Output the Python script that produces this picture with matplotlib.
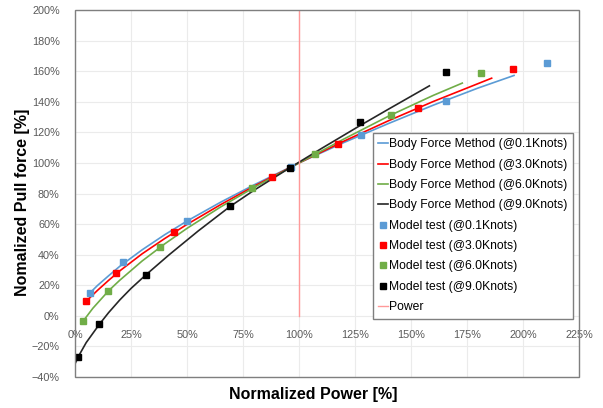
import matplotlib.pyplot as plt
from matplotlib.patches import Rectangle
from matplotlib.ticker import MultipleLocator, PercentFormatter

plt.rcParams['font.family'] = ['Liberation Sans', 'DejaVu Sans']

# body force method curves (normalized power %, normalized pull force %)
bfm_01_x = [6.7, 10, 15, 20, 30, 40, 50, 65, 80, 100, 120, 140, 160, 180, 196]
bfm_01_y = [15.0, 19.8, 26.2, 32.4, 43.2, 53.0, 62.0, 74.3, 85.7, 100, 113.3, 125.8, 137.8, 149.0, 157.2]
bfm_30_x = [4.9, 10, 15, 20, 30, 40, 50, 65, 80, 100, 120, 140, 160, 186]
bfm_30_y = [9.4, 16.6, 23.2, 29.4, 40.6, 50.5, 59.8, 72.7, 84.8, 100, 114.2, 127.6, 140.2, 155.4]
bfm_60_x = [3.7, 8, 15, 20, 30, 40, 50, 65, 80, 100, 120, 140, 160, 172.9]
bfm_60_y = [-3.3, 5.0, 16.4, 23.3, 35.9, 47.0, 57.2, 71.2, 84.0, 100, 115.6, 130.6, 144.2, 152.2]
bfm_90_x = [0.3, 1.5, 5, 10.9, 15, 20, 25, 31.5, 42, 55, 69.2, 80, 96, 110, 127, 140, 158.2]
bfm_90_y = [-30.5, -26.6, -17.5, -5.5, 2.1, 10.4, 17.9, 26.6, 39.9, 55.5, 71.5, 82.2, 96.9,
            109.4, 124.2, 135.2, 150.4]

# model test measurements
mt_01_x = [6.7, 21.6, 49.9, 96.5, 127.7, 165.5, 210.6]
mt_01_y = [15.2, 34.9, 62.1, 97.2, 118.4, 140.8, 165.5]
mt_30_x = [4.9, 18.2, 44.2, 87.8, 117.6, 153.3, 195.4]
mt_30_y = [9.4, 27.7, 54.7, 91.1, 112.5, 136.2, 161.5]
mt_60_x = [3.7, 14.9, 37.9, 79.2, 107.1, 141.1, 181.3]
mt_60_y = [-3.3, 16.4, 44.7, 83.5, 105.8, 131.5, 158.7]
mt_90_x = [1.5, 10.9, 31.5, 69.2, 96.0, 127.2, 165.5]
mt_90_y = [-26.6, -5.5, 26.6, 71.5, 97.0, 127.0, 159.3]

power_x = [100, 100]
power_y = [0, 200]

blue = '#5B9BD5'
red = '#FF0000'
green = '#70AD47'
black = '#000000'

fig = plt.figure(figsize=(6.03, 4.08), dpi=100)
ax = fig.add_axes([75 / 603, 1 - 377 / 408, 504 / 603, 367 / 408])

ax.plot(bfm_01_x, bfm_01_y, color=blue, lw=1.2, label='Body Force Method (@0.1Knots)')
ax.plot(bfm_30_x, bfm_30_y, color=red, lw=1.2, label='Body Force Method (@3.0Knots)')
ax.plot(bfm_60_x, bfm_60_y, color=green, lw=1.2, label='Body Force Method (@6.0Knots)')
ax.plot(bfm_90_x, bfm_90_y, color='#262626', lw=1.2, label='Body Force Method (@9.0Knots)')

ax.plot(mt_01_x, mt_01_y, 's', color=blue, ms=5, label='Model test (@0.1Knots)')
ax.plot(mt_30_x, mt_30_y, 's', color=red, ms=5, label='Model test (@3.0Knots)')
ax.plot(mt_60_x, mt_60_y, 's', color=green, ms=5, label='Model test (@6.0Knots)')
ax.plot(mt_90_x, mt_90_y, 's', color=black, ms=5, label='Model test (@9.0Knots)')

ax.plot(power_x, power_y, color='#FF9999', lw=1.0, label='Power')

ax.set_xlim(0, 225)
ax.set_ylim(-40, 200)
ax.xaxis.set_major_locator(MultipleLocator(25))
ax.yaxis.set_major_locator(MultipleLocator(20))
ax.xaxis.set_major_formatter(PercentFormatter(decimals=0))
ax.yaxis.set_major_formatter(PercentFormatter(decimals=0))
ax.grid(True, color='#EBEBEB', lw=0.8)
ax.set_axisbelow(True)

# x axis crosses at 0 %, the frame is drawn separately
for side in ['top', 'right', 'left']:
    ax.spines[side].set_visible(False)
ax.spines['bottom'].set_position(('data', 0))
ax.spines['bottom'].set_visible(False)
ax.add_patch(Rectangle((0, 0), 1, 1, transform=ax.transAxes, fill=False,
                       edgecolor='#7F7F7F', lw=1.0, clip_on=False, zorder=5))
ax.tick_params(length=0, labelsize=7.8, labelcolor='#595959')
ax.tick_params(axis='x', pad=10)
ax.tick_params(axis='y', pad=11)

fig.text(313 / 603, 1 - 395 / 408, 'Normalized Power [%]', ha='center', va='center',
         fontsize=11.5, fontweight='bold')
fig.text(23 / 603, 1 - 202 / 408, 'Nomalized Pull force [%]', ha='center', va='center',
         rotation=90, fontsize=11.5, fontweight='bold')

leg = ax.legend(loc='upper left', bbox_to_anchor=(373 / 603, 1 - 133 / 408),
                bbox_transform=fig.transFigure, fontsize=8.7, frameon=True,
                fancybox=False, edgecolor='#7F7F7F', framealpha=1,
                handlelength=0.75, handletextpad=0.12, labelspacing=0.69,
                borderpad=0.45, borderaxespad=0, markerscale=0.8, numpoints=1)
leg.get_frame().set_linewidth(1.0)

fig.savefig('out.png', dpi=100)
